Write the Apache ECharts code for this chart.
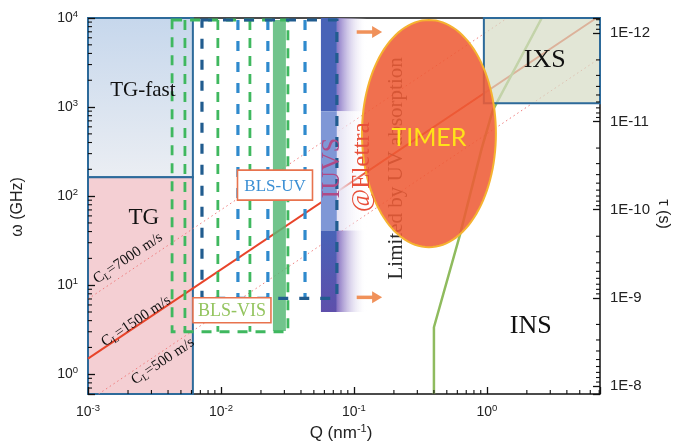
<!DOCTYPE html>
<html>
<head>
<meta charset="utf-8">
<script src="https://cdn.jsdelivr.net/npm/echarts@6/dist/echarts.min.js"></script>
<style>html,body{margin:0;padding:0;background:#fff;}#chart{width:675px;height:446px;}</style>
</head>
<body>
<div id="chart"></div>
<script>
// ---------------- data ----------------
const qRange = [0.001, 7.1];            // Q (nm^-1) axis extent
const wRange = [0.6, 10000];            // ω (GHz) axis extent
const tauRange = [6.7e-13, 1.23e-8];    // τ (s) axis extent (inverted)
const tauTickLabels = ['1E-12', '1E-11', '1E-10', '1E-9', '1E-8'];

// sound-velocity lines [Q, ω]
const cl7000 = [[0.001, 7.0], [1.43, 10000]];
const cl1500 = [[0.001, 1.5], [6.67, 10000]];
const cl500 = [[0.0012, 0.6], [7.1, 3550]];

// INS kinematic limit (green)
const insQ = [0.40, 0.40, 0.627, 0.916, 1.11, 2.59];
const insW = [0.6, 3.37, 36.5, 346, 925, 10000];

// regions [Q0, Q1, ω0, ω1]
const tgFastBox = [0.001, 0.00615, 163, 10000];
const tgBox = [0.001, 0.00615, 0.6, 163];
const ixsBox = [0.95, 7.1, 1100, 10000];
const blsVisBox = [0.00429, 0.0319, 3.0, 9500];
const blsVisBand = [0.0246, 0.0308, 3.05, 9500];
const blsVisLines = [0.00536, 0.00948, 0.01652];
const blsUvBox = [0.0072, 0.0745, 7.1, 9500];
const blsUvLines = [0.01342, 0.02254, 0.0429];
const iuvsQ = [0.0565, 0.0745, 0.125];
const iuvsW = [5.0, 41, 900, 10000];
const timerBox = [0.115, 1.17, 26.7, 9500];
const arrowQ = [0.105, 0.163];
const arrowW = [6960, 7.3];

// ---------------- styling ----------------
const serif = '"Liberation Serif","DejaVu Serif",serif';
const sans = '"Liberation Sans",Arial,sans-serif';
const BORDER = '#2d6a9a';
const GREEN = '#3fb85f';
const BLUE = '#2f8acd';
const DBLUE = '#215c8f';

function powLabel(v) {
  const e = Math.log10(v), r = Math.round(e);
  if (Math.abs(e - r) > 1e-4) return '';
  return '{b|10}{s|' + r + '}';
}
function tauLabel(v) {
  const e = Math.log10(v), r = Math.round(e);
  if (Math.abs(e - r) > 1e-4) return '';
  return tauTickLabels[r + 12] || '';
}
const powRich = {
  b: {fontSize: 14, fontFamily: sans, color: '#222', lineHeight: 18},
  s: {fontSize: 9.5, fontFamily: sans, color: '#222', verticalAlign: 'top', lineHeight: 9}
};
function minorVals(r) {
  const out = [];
  for (let e = Math.floor(Math.log10(r[0])); e <= Math.ceil(Math.log10(r[1])); e++) {
    for (let m = 2; m <= 9; m++) {
      const v = m * Math.pow(10, e);
      if (v > r[0] * 1.0001 && v < r[1] * 0.9999) out.push(v);
    }
  }
  return out;
}
function boxRect(api, b) {
  const p0 = api.coord([b[0], b[3]]), p1 = api.coord([b[1], b[2]]);
  return {x: p0[0], y: p0[1], width: p1[0] - p0[0], height: p1[1] - p0[1]};
}
function vline(api, q, w0, w1, color, width, dash) {
  const a = api.coord([q, w1]), b = api.coord([q, w0]);
  return {type: 'line', shape: {x1: a[0], y1: a[1], x2: b[0], y2: b[1]},
    style: {stroke: color, lineWidth: width, lineDash: dash, fill: null}};
}
function txt(api, q, w, text, st, rot) {
  const p = api.coord([q, w]);
  return {type: 'text', x: p[0], y: p[1], rotation: rot || 0,
    style: Object.assign({text: text, align: 'center', verticalAlign: 'middle'}, st)};
}
function lineAngle(api, line) {
  const a = api.coord(line[0]), b = api.coord(line[1]);
  return -Math.atan2(b[1] - a[1], b[0] - a[0]);
}

const chart = echarts.init(document.getElementById('chart'), null, {renderer: 'canvas'});

const axisTick = {inside: true, length: 7, lineStyle: {color: '#111', width: 1.3}};

const option = {
  animation: false,
  grid: {left: 88, right: 75, top: 18, bottom: 52, show: true, borderColor: '#111', borderWidth: 1.5, backgroundColor: 'transparent'},
  xAxis: {
    type: 'log', logBase: 10, min: qRange[0], max: qRange[1], z: 7,
    axisLine: {show: false}, axisTick: axisTick, splitLine: {show: false},
    axisLabel: {margin: 9, formatter: powLabel, rich: powRich}
  },
  yAxis: [
    {type: 'log', logBase: 10, min: wRange[0], max: wRange[1], z: 7,
      axisLine: {show: false}, axisTick: axisTick, splitLine: {show: false},
      axisLabel: {margin: 10, formatter: powLabel, rich: powRich}},
    {type: 'log', logBase: 10, position: 'right', inverse: true, min: tauRange[0], max: tauRange[1], z: 7,
      axisLine: {show: false}, axisTick: axisTick, splitLine: {show: false},
      axisLabel: {margin: 10, formatter: tauLabel, fontSize: 15, fontFamily: sans, color: '#222'}}
  ],
  graphic: [
    {type: 'text', x: 18, y: 207, rotation: Math.PI / 2, z: 100,
      style: {text: 'ω (GHz)', fill: '#222', fontSize: 16, fontFamily: sans, align: 'center', verticalAlign: 'middle'}},
    {type: 'text', x: 663, y: 214, rotation: -Math.PI / 2, z: 100,
      style: {text: 'τ (s)', fill: '#222', fontSize: 16, fontFamily: sans, align: 'center', verticalAlign: 'middle'}},
    {type: 'text', x: 341, y: 433, z: 100,
      style: {text: '{n|Q (nm}{s|-1}{n|)}', align: 'center', verticalAlign: 'middle',
        rich: {n: {fontSize: 17, fontFamily: sans, fill: '#222', lineHeight: 20},
               s: {fontSize: 11, fontFamily: sans, fill: '#222', verticalAlign: 'top', lineHeight: 10}}}}
  ],
  series: [
    // TG / TG-fast background regions
    {type: 'custom', z: 1, silent: true, data: [tgFastBox, tgBox],
      encode: {x: [0, 1], y: [2, 3]},
      renderItem: function (params, api) {
        const b = params.dataIndex === 0 ? tgFastBox : tgBox;
        const fill = params.dataIndex === 0
          ? {type: 'linear', x: 0, y: 0, x2: 0, y2: 1, colorStops: [{offset: 0, color: '#c6d7ec'}, {offset: 1, color: '#ebeef3'}]}
          : '#f4cfd3';
        return {type: 'rect', shape: boxRect(api, b), style: {fill: fill, stroke: BORDER, lineWidth: 2}};
      }},
    // sound velocity lines
    {type: 'line', z: 2, silent: true, symbol: 'none', data: cl7000, lineStyle: {color: '#ef7d7d', width: 1, type: [1.5, 3]}},
    {type: 'line', z: 2, silent: true, symbol: 'none', data: cl500, lineStyle: {color: '#ef7d7d', width: 1, type: [1.5, 3]}},
    {type: 'line', z: 2, silent: true, symbol: 'none', data: cl1500, lineStyle: {color: '#e8442a', width: 2}},
    // INS limit
    {type: 'line', z: 2, silent: true, symbol: 'none', data: insQ.map((q, i) => [q, insW[i]]), lineStyle: {color: '#8fbb5e', width: 2.5}},
    // IUVS band
    {type: 'custom', z: 3, silent: true, data: [[iuvsQ[0], iuvsW[0]]],
      renderItem: function (params, api) {
        const xs = iuvsQ.map(q => api.coord([q, 1])[0]);
        const ys = iuvsW.map(w => api.coord([1, w])[1]);
        const fade = (c) => ({type: 'linear', x: 0, y: 0, x2: 1, y2: 0, colorStops: [{offset: 0, color: c}, {offset: 1, color: 'rgba(255,255,255,0)'}]});
        const ch = [];
        ch.push({type: 'rect', shape: {x: xs[0], y: ys[3], width: xs[1] - xs[0], height: ys[2] - ys[3]}, style: {fill: '#4863b7'}});
        ch.push({type: 'rect', shape: {x: xs[1], y: ys[3], width: xs[2] - xs[1], height: ys[2] - ys[3]}, style: {fill: fade('#8a77c6')}});
        ch.push({type: 'rect', shape: {x: xs[0], y: ys[2], width: xs[1] - xs[0], height: ys[1] - ys[2]}, style: {fill: '#7f97d6'}});
        ch.push({type: 'rect', shape: {x: xs[1], y: ys[2], width: xs[2] - xs[1], height: ys[1] - ys[2]}, style: {fill: fade('#e3e0f2')}});
        ch.push({type: 'rect', shape: {x: xs[0], y: ys[1], width: xs[1] - xs[0], height: ys[0] - ys[1]},
          style: {fill: {type: 'linear', x: 0, y: 0, x2: 0, y2: 1, colorStops: [{offset: 0, color: '#4863b7'}, {offset: 1, color: '#5e4fab'}]}}});
        ch.push({type: 'rect', shape: {x: xs[1], y: ys[1], width: xs[2] - xs[1], height: ys[0] - ys[1]}, style: {fill: fade('#8670c0')}});
        return {type: 'group', children: ch};
      }},
    // BLS-VIS and BLS-UV ranges
    {type: 'custom', z: 4, silent: true, data: [[blsVisBox[0], blsVisBox[2]]],
      renderItem: function (params, api) {
        const ch = [];
        ch.push({type: 'rect', shape: boxRect(api, blsVisBand), style: {fill: 'rgba(88,186,120,0.85)'}});
        blsVisLines.forEach(q => ch.push(vline(api, q, blsVisBox[2], blsVisBox[3], GREEN, 2.8, [10, 8])));
        ch.push({type: 'rect', shape: boxRect(api, blsVisBox), style: {fill: null, stroke: GREEN, lineWidth: 2.8, lineDash: [10, 8]}});
        blsUvLines.forEach(q => ch.push(vline(api, q, blsUvBox[2], blsUvBox[3], BLUE, 3.2, [10, 11])));
        ch.push({type: 'rect', shape: boxRect(api, blsUvBox), style: {fill: null, stroke: DBLUE, lineWidth: 3.2, lineDash: [10, 11]}});
        return {type: 'group', children: ch};
      }},
    // IXS region
    {type: 'custom', z: 5, silent: true, data: [ixsBox], encode: {x: [0, 1], y: [2, 3]},
      renderItem: function (params, api) {
        return {type: 'rect', shape: boxRect(api, ixsBox), style: {fill: 'rgba(215,221,198,0.72)', stroke: BORDER, lineWidth: 2}};
      }},
    // "Limited by UV absorption"
    {type: 'custom', z: 6, silent: true, data: [[0.21, 205]],
      renderItem: function (params, api) {
        return txt(api, api.value(0), api.value(1), 'Limited by UV absorption', {fill: '#2a2a2a', fontSize: 21, fontFamily: serif}, Math.PI / 2);
      }},
    // TIMER ellipse
    {type: 'custom', z: 7, silent: true, data: [timerBox], encode: {x: [0, 1], y: [2, 3]},
      renderItem: function (params, api) {
        const r = boxRect(api, timerBox);
        const cx = r.x + r.width / 2, cy = r.y + r.height / 2, rx = r.width / 2, ry = r.height / 2;
        const pts = [];
        for (let i = 0; i < 120; i++) {
          const t = i / 120 * Math.PI * 2;
          pts.push([cx + rx * Math.cos(t), cy + ry * Math.sin(t)]);
        }
        return {type: 'group', children: [
          {type: 'polygon', shape: {points: pts}, style: {fill: 'rgba(238,92,55,0.88)', stroke: '#f5b230', lineWidth: 2}},
          {type: 'text', x: cx, y: cy + 4, style: {text: 'TIMER', fill: '#ffe21a', fontSize: 25, fontFamily: 'Lato, "Open Sans", sans-serif', align: 'center', verticalAlign: 'middle'}}
        ]};
      }},
    // labels and arrows
    {type: 'custom', z: 8, silent: true, data: [[0.01, 10]],
      renderItem: function (params, api) {
        const ch = [];
        const clRich = {
          a: {fontSize: 15, fontFamily: serif, fill: '#111', lineHeight: 18},
          s: {fontSize: 10, fontFamily: serif, fill: '#111', verticalAlign: 'bottom', lineHeight: 8}
        };
        const ang = lineAngle(api, cl1500);
        ch.push(txt(api, 0.002, 20.1, '{a|C}{s|L}{a|=7000 m/s}', {rich: clRich}, ang));
        ch.push(txt(api, 0.0023, 3.94, '{a|C}{s|L}{a|=1500 m/s}', {rich: clRich}, ang));
        ch.push(txt(api, 0.00366, 1.40, '{a|C}{s|L}{a|=500 m/s}', {rich: clRich}, ang));
        ch.push(txt(api, 0.00259, 1553, 'TG-fast', {fill: '#111', fontSize: 21, fontFamily: serif}));
        ch.push(txt(api, 0.00263, 56.6, 'TG', {fill: '#111', fontSize: 23, fontFamily: serif}));
        ch.push(txt(api, 2.73, 3373, 'IXS', {fill: '#111', fontSize: 26, fontFamily: serif}));
        ch.push(txt(api, 2.14, 3.46, 'INS', {fill: '#111', fontSize: 26, fontFamily: serif}));
        ch.push(txt(api, 0.0684, 206, 'IUVS', {fill: '#b04a86', fontSize: 26, fontFamily: serif}, Math.PI / 2));
        ch.push(txt(api, 0.115, 212, '@Elettra', {fill: '#e8503a', fontSize: 25, fontFamily: serif}, Math.PI / 2));
        const lab = (q, w, wpx, hpx, text, color, fs) => {
          const p = api.coord([q, w]);
          ch.push({type: 'rect', shape: {x: p[0] - wpx / 2, y: p[1] - hpx / 2, width: wpx, height: hpx},
            style: {fill: '#fff', stroke: '#e8734e', lineWidth: 1.6}});
          ch.push({type: 'text', x: p[0], y: p[1] + 1, style: {text: text, fill: color, fontSize: fs, fontFamily: serif, align: 'center', verticalAlign: 'middle'}});
        };
        lab(0.0255, 133, 75, 30, 'BLS-UV', '#3b8fd4', 17);
        lab(0.0121, 5.24, 78, 25, 'BLS-VIS', '#93c45e', 18);
        arrowW.forEach(w => {
          const a = api.coord([arrowQ[0], w]), b = api.coord([arrowQ[1], w]);
          ch.push({type: 'line', shape: {x1: a[0], y1: a[1], x2: b[0] - 8, y2: b[1]}, style: {stroke: '#f0915a', lineWidth: 3.5}});
          ch.push({type: 'polygon', shape: {points: [[b[0], b[1]], [b[0] - 10, b[1] - 6], [b[0] - 10, b[1] + 6]]}, style: {fill: '#f0915a'}});
        });
        return {type: 'group', children: ch};
      }},
    // minor ticks (bottom & left)
    {type: 'custom', z: 9, silent: true, data: [[qRange[0], wRange[0]]],
      renderItem: function (params, api) {
        const ch = [];
        const st = {stroke: '#111', lineWidth: 1.1};
        minorVals(qRange).forEach(v => {
          const p = api.coord([v, wRange[0]]);
          ch.push({type: 'line', shape: {x1: p[0], y1: p[1], x2: p[0], y2: p[1] - 4}, style: st});
        });
        minorVals(wRange).forEach(v => {
          const p = api.coord([qRange[0], v]);
          ch.push({type: 'line', shape: {x1: p[0], y1: p[1], x2: p[0] + 4, y2: p[1]}, style: st});
        });
        return {type: 'group', children: ch};
      }},
    // minor ticks (right τ axis)
    {type: 'custom', z: 9, silent: true, yAxisIndex: 1, data: [[qRange[1], 1e-10]],
      renderItem: function (params, api) {
        const ch = [];
        const st = {stroke: '#111', lineWidth: 1.1};
        minorVals(tauRange).forEach(v => {
          const p = api.coord([qRange[1], v]);
          ch.push({type: 'line', shape: {x1: p[0], y1: p[1], x2: p[0] - 4, y2: p[1]}, style: st});
        });
        return {type: 'group', children: ch};
      }}
  ]
};
chart.setOption(option);
</script>
</body>
</html>
